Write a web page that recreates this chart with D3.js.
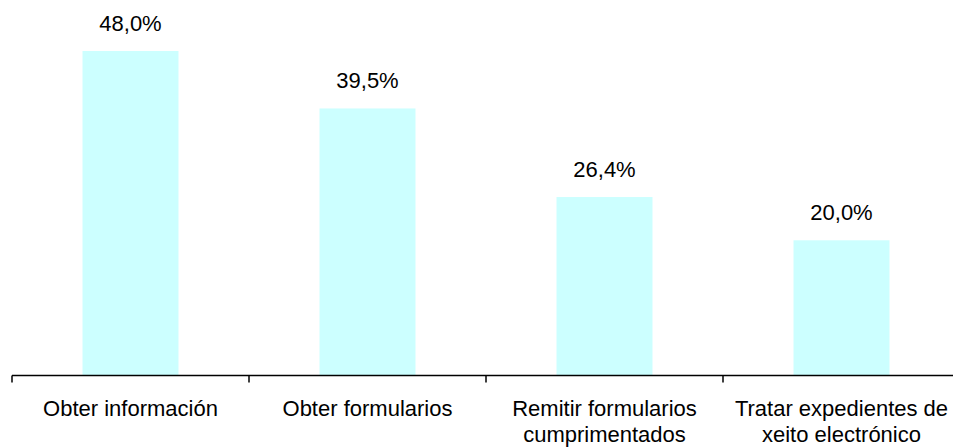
<!DOCTYPE html>
<html><head><meta charset="utf-8">
<script src="https://cdn.jsdelivr.net/npm/d3@7"></script>
<style>body{margin:0;background:#fff;} svg{display:block;} text{font-family:"Liberation Sans",Arial,sans-serif;fill:#000;}</style>
</head><body>
<svg id="c" width="953" height="447"></svg>
<script>
const categories = [["Obter información"],["Obter formularios"],["Remitir formularios","cumprimentados"],["Tratar expedientes de","xeito electrónico"]];
const values = [48.0, 39.5, 26.4, 20.0];
const labels = ["48,0%","39,5%","26,4%","20,0%"];

const svg = d3.select("#c");
const baseY = 375.5;
const x = d3.scaleBand().domain(d3.range(values.length)).range([12, 960]).paddingInner(0.595).paddingOuter(0.2975);
const y = d3.scaleLinear().domain([0, 48]).range([baseY, 51]);

svg.selectAll("rect.bar").data(values).join("rect")
  .attr("x", (d,i)=>x(i)).attr("width", x.bandwidth())
  .attr("y", d=>y(d)).attr("height", d=>baseY - y(d))
  .attr("fill", "#ccffff");

svg.selectAll("text.val").data(values).join("text")
  .attr("x", (d,i)=>x(i)+x.bandwidth()/2).attr("y", d=>y(d)-20)
  .attr("text-anchor","middle").attr("font-size", 22)
  .text((d,i)=>labels[i]);

const step = x.step();
const g = svg.append("g");
g.append("line").attr("x1",12).attr("x2",960).attr("y1",baseY).attr("y2",baseY).attr("stroke","#000").attr("stroke-width",1.5);
const tickXs = d3.range(values.length+1).map(i => 12 + i*step);
g.selectAll("line.t").data(tickXs).join("line")
  .attr("x1",d=>d).attr("x2",d=>d).attr("y1",baseY).attr("y2",baseY+7).attr("stroke","#000").attr("stroke-width",1.5);

categories.forEach((lines,i)=>{
  const t = svg.append("text").attr("text-anchor","middle").attr("font-size",22)
    .attr("x", x(i)+x.bandwidth()/2).attr("y", 416);
  lines.forEach((l,j)=>t.append("tspan").attr("x", x(i)+x.bandwidth()/2).attr("dy", j===0?0:26).text(l));
});
</script>
</body></html>
